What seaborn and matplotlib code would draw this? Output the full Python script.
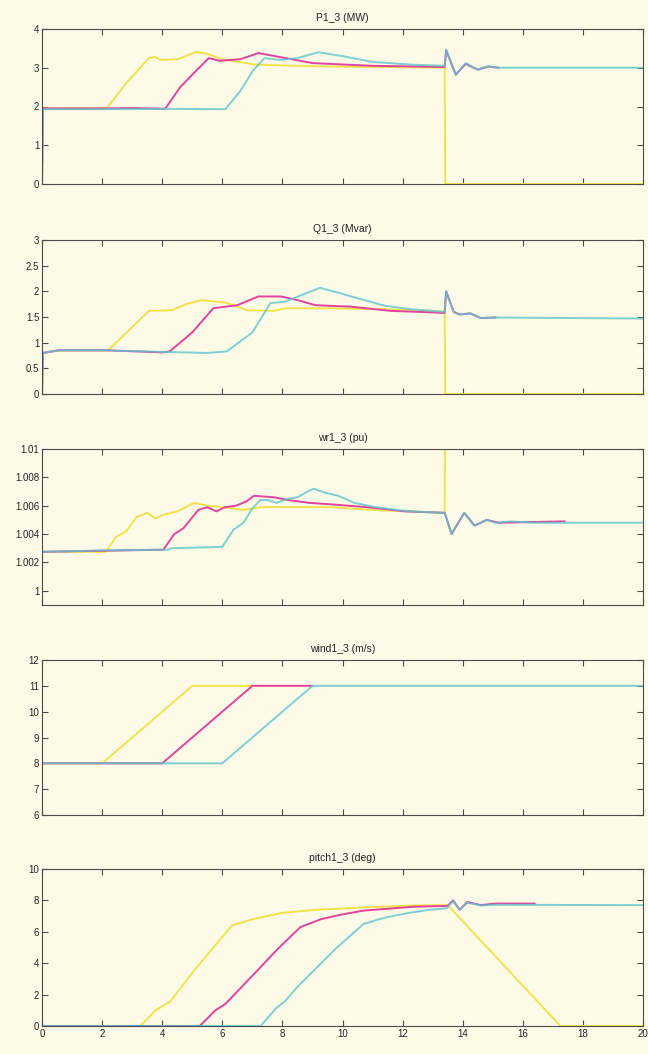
import numpy as np
import pandas as pd
import matplotlib
matplotlib.use('Agg')
import matplotlib.pyplot as plt
import seaborn as sns
from matplotlib.ticker import FuncFormatter

# ---- data (time in s) ----
# P1_3 (MW)
p_yel_t = [0, 0.03, 1.0, 2.16, 2.8, 3.56, 3.75, 3.95, 4.5, 5.14, 5.5, 6.0, 7.1, 9.0, 11.0, 13.4, 13.42, 20]
p_yel_v = [0, 1.95, 1.96, 1.96, 2.6, 3.25, 3.28, 3.2, 3.22, 3.41, 3.36, 3.22, 3.08, 3.04, 3.02, 3.0, 0, 0]
p_mag_t = [0, 0.03, 2.0, 3.0, 4.1, 4.6, 5.1, 5.55, 5.9, 6.6, 7.2, 8.1, 9.0, 11.0, 13.4, 13.45, 13.77, 14.1, 14.5, 14.85, 15.2]
p_mag_v = [0, 1.95, 1.95, 1.96, 1.94, 2.5, 2.9, 3.25, 3.18, 3.22, 3.38, 3.25, 3.12, 3.05, 3.02, 3.45, 2.82, 3.1, 2.95, 3.03, 3.0]
p_cya_t = [0, 0.03, 2.0, 4.0, 6.1, 6.6, 7.0, 7.4, 7.95, 8.5, 9.2, 10.0, 11.0, 12.3, 13.4, 13.45, 13.77, 14.1, 14.5, 14.85, 15.2, 20]
p_cya_v = [0, 1.93, 1.93, 1.94, 1.93, 2.4, 2.9, 3.25, 3.2, 3.25, 3.4, 3.3, 3.15, 3.08, 3.05, 3.47, 2.82, 3.12, 2.95, 3.04, 3.0, 3.0]

# Q1_3 (Mvar)
q_yel_t = [0, 0.03, 0.55, 2.2, 3.56, 4.3, 4.8, 5.3, 6.1, 6.85, 7.7, 8.1, 9.6, 11.6, 13.4, 13.42, 20]
q_yel_v = [0, 0.8, 0.85, 0.85, 1.62, 1.63, 1.75, 1.83, 1.78, 1.63, 1.62, 1.67, 1.67, 1.65, 1.6, 0, 0]
q_mag_t = [0, 0.03, 0.55, 2.2, 4.0, 4.25, 5.0, 5.7, 6.5, 7.2, 7.95, 8.5, 9.1, 10.3, 11.6, 13.4, 13.45, 13.7, 13.9, 14.25, 14.6, 15.1]
q_mag_v = [0, 0.8, 0.85, 0.85, 0.81, 0.83, 1.2, 1.67, 1.73, 1.9, 1.9, 1.83, 1.73, 1.7, 1.62, 1.58, 2.0, 1.6, 1.55, 1.57, 1.48, 1.49]
q_cya_t = [0, 0.03, 0.55, 2.2, 4.0, 5.5, 6.15, 7.0, 7.6, 8.1, 9.25, 10.3, 11.4, 12.3, 13.4, 13.45, 13.7, 13.9, 14.25, 14.6, 15.1, 20]
q_cya_v = [0, 0.8, 0.85, 0.85, 0.82, 0.8, 0.83, 1.2, 1.77, 1.8, 2.07, 1.9, 1.72, 1.65, 1.6, 2.0, 1.6, 1.55, 1.57, 1.48, 1.49, 1.47]

# wr1_3 (pu)
w_yel_t = [0, 2.12, 2.47, 2.8, 3.15, 3.5, 3.77, 4.1, 4.5, 5.07, 5.5, 6.0, 6.7, 7.3, 9.6, 11.0, 13.4, 13.43]
w_yel_v = [1.00275, 1.00275, 1.0038, 1.0042, 1.0052, 1.0055, 1.0051, 1.0054, 1.0056, 1.0062, 1.006, 1.0059,
           1.0057, 1.0059, 1.0059, 1.0057, 1.0055, 1.02]
w_mag_t = [0, 4.04, 4.4, 4.7, 5.2, 5.5, 5.8, 6.1, 6.45, 6.8, 7.05, 7.7, 8.2, 8.9, 9.6, 10.8, 12.1, 13.4,
           13.63, 14.05, 14.4, 14.8, 15.2, 17.4]
w_mag_v = [1.00275, 1.0029, 1.004, 1.0044, 1.0057, 1.0059, 1.0056, 1.0059, 1.006, 1.0063, 1.0067, 1.0066,
           1.0064, 1.0062, 1.0061, 1.0059, 1.0056, 1.0055, 1.004, 1.0055, 1.0046, 1.005, 1.0048, 1.0049]
w_cya_t = [0, 2.0, 4.2, 4.3, 6.0, 6.37, 6.7, 7.0, 7.26, 7.53, 7.8, 8.2, 8.5, 8.84, 9.04, 9.45, 9.86, 10.4,
           11.1, 11.8, 12.3, 13.4, 13.63, 14.05, 14.38, 14.8, 15.1, 15.6, 16.3, 20]
w_cya_v = [1.00275, 1.00285, 1.0029, 1.003, 1.0031, 1.0043, 1.0048, 1.0058, 1.0064, 1.0064, 1.0062, 1.0065,
           1.0066, 1.007, 1.0072, 1.0069, 1.0067, 1.0062, 1.0059, 1.0057, 1.0056, 1.0055, 1.004, 1.0055,
           1.0046, 1.005, 1.0048, 1.0049, 1.0048, 1.0048]

# wind1_3 (m/s)
wd_yel_t = [0, 2, 5, 7]
wd_mag_t = [0, 4, 7, 9]
wd_cya_t = [0, 6, 9, 20]
wd_v = [8, 8, 11, 11]

# pitch1_3 (deg)
pi_yel_t = [0, 3.27, 3.78, 4.26, 5.09, 6.32, 7.0, 7.97, 9.07, 10.7, 12.4, 13.5, 17.25, 20]
pi_yel_v = [0, 0, 1.0, 1.55, 3.6, 6.4, 6.8, 7.2, 7.4, 7.55, 7.68, 7.7, 0, 0]
pi_mag_t = [0, 5.25, 5.77, 6.1, 6.5, 7.15, 7.84, 8.6, 9.28, 9.97, 10.7, 11.7, 12.4, 13.5, 13.68, 13.9,
            14.15, 14.6, 15.1, 16.4]
pi_mag_v = [0, 0, 1.0, 1.4, 2.2, 3.5, 4.9, 6.3, 6.8, 7.1, 7.35, 7.5, 7.6, 7.65, 8.0, 7.4, 7.9, 7.7, 7.8, 7.8]
pi_cya_t = [0, 7.28, 7.77, 8.1, 8.5, 9.76, 10.7, 11.4, 12.2, 12.9, 13.47, 13.68, 13.9, 14.15, 14.6, 15.1, 20]
pi_cya_v = [0, 0, 1.1, 1.6, 2.5, 4.9, 6.5, 6.9, 7.2, 7.4, 7.5, 7.95, 7.4, 7.85, 7.68, 7.72, 7.7]

titles = ['P1_3 (MW)', 'Q1_3 (Mvar)', 'wr1_3 (pu)', 'wind1_3 (m/s)', 'pitch1_3 (deg)']
y_limits = [(0, 4), (0, 3), (0.999, 1.01), (6, 12), (0, 10)]
y_ticks = [[0, 1, 2, 3, 4],
           [0, 0.5, 1, 1.5, 2, 2.5, 3],
           [1, 1.002, 1.004, 1.006, 1.008, 1.01],
           [6, 7, 8, 9, 10, 11, 12],
           [0, 2, 4, 6, 8, 10]]
x_ticks = list(range(0, 21, 2))

panels = [
    [(p_yel_t, p_yel_v), (p_mag_t, p_mag_v), (p_cya_t, p_cya_v)],
    [(q_yel_t, q_yel_v), (q_mag_t, q_mag_v), (q_cya_t, q_cya_v)],
    [(w_yel_t, w_yel_v), (w_mag_t, w_mag_v), (w_cya_t, w_cya_v)],
    [(wd_yel_t, wd_v), (wd_mag_t, wd_v), (wd_cya_t, wd_v)],
    [(pi_yel_t, pi_yel_v), (pi_mag_t, pi_mag_v), (pi_cya_t, pi_cya_v)],
]
colors = ['#f2e24a', '#e0449c', '#5ec4cc']
alphas = [1.0, 1.0, 0.8]

sns.set_style('ticks')
plt.rcParams['font.family'] = ['Liberation Sans', 'DejaVu Sans']
bg = '#fdfbe8'
edge = '#4a4a4a'

fig = plt.figure(figsize=(6.48, 10.54), dpi=100, facecolor=bg)
W, H = 648, 1054
left, right = 42, 643
tops = [29, 240, 449, 660, 869]
bottoms = [184, 394, 605, 815, 1026]

for i in range(5):
    ax = fig.add_axes([left / W, 1 - bottoms[i] / H, (right - left) / W, (bottoms[i] - tops[i]) / H])
    ax.set_facecolor(bg)
    for (t, v), c, a in zip(panels[i], colors, alphas):
        df = pd.DataFrame({'t': t, 'v': v})
        sns.lineplot(data=df, x='t', y='v', ax=ax, color=c, alpha=a, lw=1.4,
                     estimator=None, sort=False)
    ax.set_xlim(0, 20)
    ax.set_ylim(*y_limits[i])
    ax.set_xticks(x_ticks)
    ax.set_yticks(y_ticks[i])
    ax.yaxis.set_major_formatter(FuncFormatter(lambda val, pos: f'{val:g}'))
    ax.set_xlabel('')
    ax.set_ylabel('')
    ax.set_title(titles[i], fontsize=7.5, pad=6, color='#222222')
    ax.tick_params(direction='in', length=4, width=0.8, top=True, right=True,
                   labelsize=7, pad=2, colors=edge, labelcolor='#222222')
    if i < 4:
        ax.tick_params(labelbottom=False)
    for s in ax.spines.values():
        s.set_visible(True)
        s.set_color(edge)
        s.set_linewidth(0.8)

fig.savefig('out.png', dpi=100, facecolor=bg)
